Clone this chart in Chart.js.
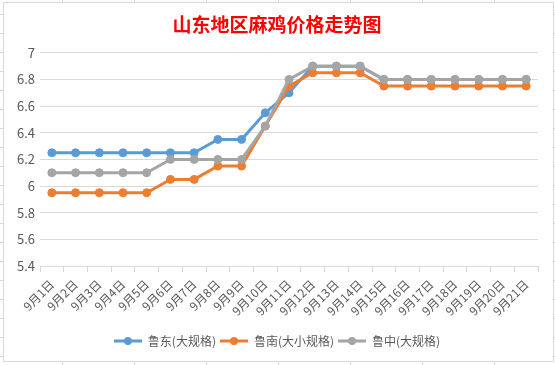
<!DOCTYPE html>
<html>
<head>
<meta charset="utf-8">
<script src="https://cdn.jsdelivr.net/npm/chart.js@4"></script>
<style>
html,body{margin:0;padding:0;}
body{width:555px;height:365px;position:relative;overflow:hidden;background-color:#fff;
background-image:linear-gradient(to right,#d6d6d6 1px,transparent 1px),linear-gradient(to bottom,#d6d6d6 1px,transparent 1px);
background-size:72px 19px;background-position:62px 14px;}
#frame{position:absolute;left:3px;top:2px;width:549px;height:358px;background:#fff;border:1px solid #d9d9d9;}
#wrap{position:absolute;left:0;top:0;width:555px;height:365px;}
</style>
</head>
<body>
<div id="frame"></div>
<div id="wrap"><canvas id="c" width="555" height="365"></canvas></div>
<script>
const categories = ['9月1日','9月2日','9月3日','9月4日','9月5日','9月6日','9月7日','9月8日','9月9日','9月10日','9月11日','9月12日','9月13日','9月14日','9月15日','9月16日','9月17日','9月18日','9月19日','9月20日','9月21日'];
const ludong = [6.25,6.25,6.25,6.25,6.25,6.25,6.25,6.35,6.35,6.55,6.7,6.9,6.9,6.9,6.8,6.8,6.8,6.8,6.8,6.8,6.8];
const lunan = [5.95,5.95,5.95,5.95,5.95,6.05,6.05,6.15,6.15,6.45,6.75,6.85,6.85,6.85,6.75,6.75,6.75,6.75,6.75,6.75,6.75];
const luzhong = [6.1,6.1,6.1,6.1,6.1,6.2,6.2,6.2,6.2,6.45,6.8,6.9,6.9,6.9,6.8,6.8,6.8,6.8,6.8,6.8,6.8];
const seriesNames = ['鲁东(大规格)','鲁南(大小规格)','鲁中(大规格)'];
const yTicks = [5.4,5.6,5.8,6,6.2,6.4,6.6,6.8,7];
const titleText = '山东地区麻鸡价格走势图';

const colors = ['#5B9BD5','#ED7D31','#A5A5A5'];
const FONT = '"Noto Sans CJK SC", "Noto Sans", sans-serif';

function legendIcon(color){
  const cv = document.createElement('canvas');
  cv.width = 28; cv.height = 10;
  const g = cv.getContext('2d');
  g.strokeStyle = color; g.lineWidth = 3;
  g.beginPath(); g.moveTo(0,5); g.lineTo(28,5); g.stroke();
  g.fillStyle = color; g.beginPath(); g.arc(14,5,4,0,Math.PI*2); g.fill();
  return cv;
}
const icons = colors.map(legendIcon);

function ds(label, data, color, order){
  return {label, data, order, borderColor: color, backgroundColor: color, borderWidth: 3,
    pointRadius: 4, pointBackgroundColor: color, pointBorderColor: color, pointBorderWidth: 1,
    pointHoverRadius: 4, tension: 0, fill: false};
}

new Chart(document.getElementById('c'), {
  type: 'line',
  data: {
    labels: categories,
    datasets: [
      ds(seriesNames[0], ludong, colors[0], 3),
      ds(seriesNames[1], lunan, colors[1], 2),
      ds(seriesNames[2], luzhong, colors[2], 1)
    ]
  },
  options: {
    responsive: false,
    animation: false,
    layout: {padding: {left: 16, right: 17, top: 0, bottom: 8}},
    plugins: {
      title: {display: true, text: titleText, color: '#FF0000',
        font: {family: FONT, size: 19, weight: 'bold'}, padding: {top: 13, bottom: 17}},
      legend: {position: 'bottom',
        labels: {usePointStyle: true, pointStyleWidth: 28, boxHeight: 12, padding: 4,
          color: '#595959', font: {family: FONT, size: 12},
          sort: (a, b) => a.datasetIndex - b.datasetIndex,
          generateLabels: (chart) => {
            const items = Chart.defaults.plugins.legend.labels.generateLabels(chart);
            items.forEach((it) => { it.pointStyle = icons[it.datasetIndex]; });
            return items;
          }}},
      tooltip: {enabled: false}
    },
    scales: {
      x: {
        offset: true,
        grid: {display: true, drawOnChartArea: false, drawTicks: true, tickLength: 6, color: '#d9d9d9', offset: true},
        border: {display: true, color: '#d9d9d9'},
        ticks: {autoSkip: false, minRotation: 45, maxRotation: 45, color: '#595959',
          font: {family: FONT, size: 12}, padding: 5},
        afterFit: (s) => { s.height = 65; }
      },
      y: {
        min: 5.4, max: 7,
        afterBuildTicks: (s) => { s.ticks = yTicks.map(v => ({value: v})); },
        grid: {color: '#d9d9d9', drawTicks: false},
        border: {display: false},
        ticks: {color: '#595959', font: {family: FONT, size: 13}, padding: 5,
          callback: (v) => String(v)},
        afterFit: (s) => { s.width = 24; }
      }
    }
  }
});
</script>
</body>
</html>
